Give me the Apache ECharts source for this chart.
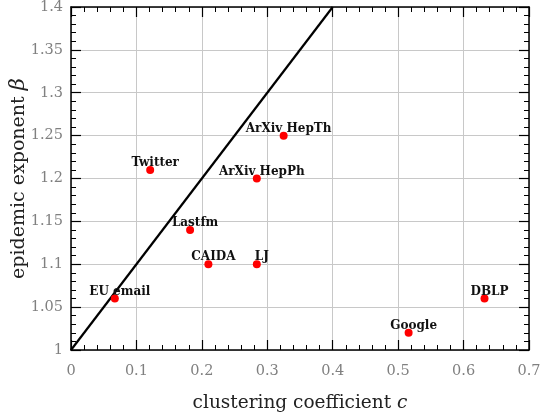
<!DOCTYPE html>
<html style="height: 100%">
<head>
    <meta charset="utf-8">
</head>
<body style="height: 100%; margin: 0; background: #fff">
<div id="container" style="width: 542px; height: 419px"></div>
<script type="text/javascript" src="https://cdn.jsdelivr.net/npm/echarts@6/dist/echarts.min.js"></script>
<script type="text/javascript">
var names = ['EU email', 'Twitter', 'Lastfm', 'CAIDA', 'LJ', 'ArXiv HepTh', 'ArXiv HepPh', 'Google', 'DBLP'];
var clustering = [0.067, 0.121, 0.182, 0.21, 0.284, 0.325, 0.284, 0.516, 0.632];
var exponent = [1.06, 1.21, 1.14, 1.1, 1.1, 1.25, 1.2, 1.02, 1.06];
var lineX = [0, 0.4];
var lineY = [1, 1.4];

var serif = 'DejaVu Serif';
var dom = document.getElementById('container');
var myChart = echarts.init(dom);

var points = [];
for (var i = 0; i < names.length; i++) {
    points.push({ name: names[i], value: [clustering[i], exponent[i]] });
}
var linePts = [];
for (var j = 0; j < lineX.length; j++) {
    linePts.push([lineX[j], lineY[j]]);
}

var tickBase = {
    axisLine: { show: true, onZero: false, lineStyle: { color: '#000', width: 1.5 } },
    axisTick: { show: true, inside: true, length: 10, lineStyle: { color: '#000', width: 1.2 } },
    minorTick: { show: true, splitNumber: 5, length: 5, lineStyle: { color: '#000', width: 1 } }
};

var option = {
    animation: false,
    grid: { left: 71, right: 13, top: 7, bottom: 69, outerBoundsMode: 'none', containLabel: false },
    xAxis: [
        Object.assign({
            type: 'value', min: 0, max: 0.7, interval: 0.1,
            name: '{t|clustering coefficient }{i|c}',
            nameLocation: 'middle', nameGap: 44,
            nameTextStyle: {
                rich: {
                    t: { fontFamily: serif, fontSize: 18.5, color: '#222' },
                    i: { fontFamily: serif, fontSize: 18.5, fontStyle: 'italic', color: '#222' }
                }
            },
            axisLabel: { fontFamily: serif, fontSize: 14.5, color: '#808080', margin: 14 },
            splitLine: { show: true, lineStyle: { color: '#c8c8c8', width: 1 } }
        }, tickBase),
        Object.assign({
            type: 'value', min: 0, max: 0.7, interval: 0.1, position: 'top',
            axisLabel: { show: false },
            splitLine: { show: false }
        }, tickBase)
    ],
    yAxis: [
        Object.assign({
            type: 'value', min: 1, max: 1.4, interval: 0.05,
            name: '{t|epidemic exponent }{i|β}',
            nameLocation: 'middle', nameGap: 52,
            nameMoveOverlap: false,
            nameTextStyle: {
                verticalAlign: 'middle',
                rich: {
                    t: { fontFamily: serif, fontSize: 19, color: '#222' },
                    i: { fontFamily: serif, fontSize: 21, fontStyle: 'italic', color: '#222' }
                }
            },
            axisLabel: {
                fontFamily: serif, fontSize: 14.5, color: '#808080', margin: 8,
                formatter: function (v) { return String(parseFloat(v.toFixed(2))); }
            },
            splitLine: { show: true, lineStyle: { color: '#c8c8c8', width: 1 } }
        }, tickBase),
        Object.assign({
            type: 'value', min: 1, max: 1.4, interval: 0.05, position: 'right',
            axisLabel: { show: false },
            splitLine: { show: false }
        }, tickBase)
    ],
    series: [
        {
            type: 'line',
            data: linePts,
            symbol: 'none',
            lineStyle: { color: '#000', width: 2.2 },
            z: 3
        },
        {
            type: 'scatter',
            data: points,
            symbolSize: 8,
            itemStyle: { color: '#ff0000', opacity: 1 },
            label: {
                show: true,
                position: 'top',
                distance: 1,
                offset: [5, 4],
                formatter: '{b}',
                fontFamily: serif,
                fontWeight: 'bold',
                fontSize: 12,
                color: '#111'
            },
            z: 4
        }
    ]
};

myChart.setOption(option);
</script>
</body>
</html>
